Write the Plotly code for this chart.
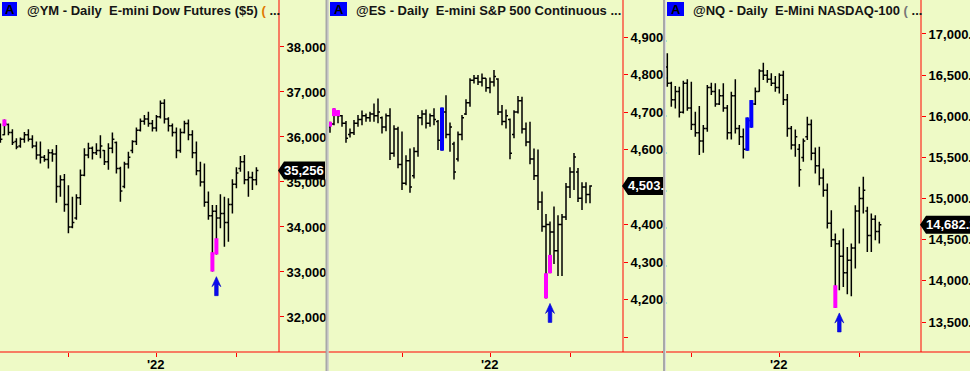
import plotly.graph_objects as go

W, H = 970, 371
BG = "#EEFAC6"
RED = "#FF0000"
MAG = "#FF00FF"
BLUE = "#0000FF"
FONT = "Liberation Sans, Arial, sans-serif"

# ---------------- data: @YM daily (index = trading day) ----------------
ym_open = [36250, 36050, 36280, 36100, 35900, 35800, 35950, 36050, 35950, 35800,
           35600, 35550, 35500, 35650, 35620, 34900, 35050, 34500, 34000, 34200,
           34650, 35150, 35600, 35750, 35650, 35700, 35700, 35450, 35750, 35880,
           35300, 34900, 35400, 35700, 35900, 36150, 36350, 36400, 36300, 36200,
           36450, 36750, 36400, 36250, 36100, 35700, 36100, 36300, 36050, 35650,
           35250, 35000, 34550, 34250, 34350, 34200, 34300, 34100, 34500, 34950,
           35300, 35450, 35050, 35100, 35050]
ym_high = [36300, 36390, 36300, 36170, 35970, 35990, 36110, 36170, 36040, 35900,
           35900, 35600, 35730, 35730, 35820, 35150, 35180, 34930, 34670, 34730,
           35280, 35750, 35870, 35790, 35860, 36040, 35710, 35860, 36100, 35900,
           35340, 35450, 35670, 35930, 36210, 36410, 36490, 36560, 36380, 36490,
           36810, 36840, 36440, 36300, 36210, 36190, 36360, 36390, 36150, 35900,
           35450, 35410, 34790, 34490, 34490, 34730, 34670, 34640, 35060, 35330,
           35580, 35600, 35240, 35230, 35330]
ym_low = [35870, 36040, 36040, 35820, 35730, 35760, 35870, 35900, 35750, 35500,
          35410, 35450, 35300, 35450, 34540, 34670, 34340, 33860, 33970, 34160,
          34490, 35130, 35530, 35500, 35600, 35530, 35380, 35270, 35640, 35190,
          34560, 34860, 35300, 35640, 35820, 36120, 36270, 36230, 36120, 36120,
          36410, 36300, 36120, 36010, 35530, 35650, 36080, 35930, 35530, 35150,
          34900, 34450, 34160, 33010, 33390, 33970, 33560, 33670, 34300, 34860,
          35230, 34950, 34670, 34820, 34930]
ym_close = [35950, 36300, 36100, 35880, 35780, 35950, 36050, 35950, 35800, 35600,
            35550, 35500, 35650, 35620, 34900, 35050, 34500, 34000, 34100, 34650,
            35150, 35600, 35750, 35650, 35700, 35800, 35450, 35750, 35950, 35300,
            34800, 35400, 35550, 35900, 36150, 36350, 36400, 36300, 36200, 36450,
            36750, 36400, 36250, 36100, 35700, 36100, 36300, 36050, 35650, 35250,
            35000, 34550, 34250, 34350, 34200, 34300, 34100, 34500, 34950, 35200,
            35450, 35050, 35100, 35050, 35256]
ym_paint_idx = [1, 53, 54]
ym_paint_top = [36390, 33440, 33750]
ym_paint_bot = [36240, 33010, 33390]
ym_paint_col = [MAG, MAG, MAG]
ym_arrow = (54, 33007)
ym_yticks = [32000, 33000, 34000, 35000, 36000, 37000, 38000]
ym_ytext = ["32,000", "33,000", "34,000", "35,000", "36,000", "37,000", "38,000"]
ym_xticks = [17, 39, 59]
ym_last = "35,256"

# ---------------- data: @ES daily ----------------
es_open = [4660, 4668, 4695, 4690, 4670, 4640, 4645, 4670, 4680, 4690,
           4685, 4695, 4690, 4685, 4660, 4690, 4590, 4655, 4560, 4510,
           4570, 4530, 4595, 4685, 4695, 4670, 4690, 4675, 4625, 4700,
           4640, 4615, 4575, 4640, 4695, 4725, 4785, 4790, 4780, 4790,
           4765, 4780, 4788, 4700, 4675, 4680, 4640, 4700, 4730, 4655,
           4620, 4575, 4530, 4460, 4395, 4400, 4380, 4330, 4400, 4420,
           4500, 4540, 4540, 4470, 4500, 4480]
es_high = [4674, 4710, 4705, 4692, 4676, 4656, 4679, 4692, 4704, 4696,
           4701, 4723, 4736, 4688, 4696, 4710, 4665, 4661, 4648, 4585,
           4603, 4606, 4692, 4705, 4707, 4696, 4710, 4679, 4712, 4745,
           4672, 4621, 4648, 4692, 4734, 4790, 4799, 4799, 4803, 4790,
           4792, 4812, 4790, 4719, 4707, 4683, 4705, 4743, 4741, 4672,
           4674, 4603, 4600, 4488, 4428, 4408, 4448, 4425, 4428, 4511,
           4553, 4591, 4551, 4513, 4513, 4505]
es_low = [4645, 4665, 4670, 4661, 4618, 4632, 4639, 4661, 4665, 4674,
          4674, 4674, 4670, 4643, 4649, 4572, 4581, 4550, 4492, 4505,
          4485, 4523, 4581, 4665, 4656, 4661, 4665, 4599, 4597, 4630,
          4594, 4520, 4568, 4625, 4692, 4714, 4776, 4772, 4768, 4754,
          4750, 4768, 4692, 4665, 4656, 4574, 4630, 4696, 4643, 4609,
          4561, 4519, 4439, 4381, 4203, 4270, 4295, 4263, 4263, 4412,
          4471, 4492, 4460, 4439, 4457, 4457]
es_close = [4665, 4700, 4690, 4670, 4630, 4645, 4670, 4680, 4690, 4685,
            4695, 4690, 4700, 4660, 4690, 4590, 4655, 4560, 4510, 4570,
            4500, 4595, 4685, 4695, 4670, 4690, 4680, 4625, 4700, 4640,
            4660, 4540, 4640, 4685, 4725, 4785, 4790, 4780, 4790, 4765,
            4780, 4795, 4700, 4675, 4690, 4590, 4700, 4730, 4655, 4620,
            4575, 4530, 4460, 4395, 4400, 4380, 4330, 4400, 4420, 4500,
            4540, 4580, 4470, 4500, 4480, 4503]
es_paint_idx = [0, 1, 2, 54, 55, 28]
es_paint_top = [4674, 4710, 4705, 4270, 4319, 4712]
es_paint_bot = [4661, 4689, 4689, 4203, 4270, 4597]
es_paint_col = [MAG, MAG, MAG, MAG, MAG, BLUE]
es_arrow = (55, 4203)
es_yticks = [4100, 4200, 4300, 4400, 4500, 4600, 4700, 4800, 4900]
es_ytext = ["", "4,200.", "4,300.", "4,400.", "4,500.", "4,600.", "4,700.", "4,800.", "4,900."]
es_xticks = [18, 40, 60]
es_last = "4,503."

# ---------------- data: @NQ daily ----------------
nq_open = [16600, 16400, 16200, 16300, 16050, 16400, 16100, 15900, 15800, 15700,
           15850, 16350, 16300, 16150, 16250, 16100, 15800, 16250, 15850, 15750,
           15600, 15950, 16150, 16300, 16550, 16500, 16450, 16400, 16350, 16500,
           16200, 15850, 15650, 15600, 15500, 15750, 15900, 15550, 15400, 15250,
           15100, 14700, 14500, 14450, 14300, 14100, 14250, 14400, 14850, 15000,
           14850, 14550, 14750, 14600]
nq_high = [16765, 16420, 16367, 16359, 16432, 16449, 16420, 16055, 16124, 15893,
           16380, 16408, 16400, 16327, 16400, 16136, 16298, 16449, 15893, 15852,
           15986, 16197, 16351, 16570, 16651, 16562, 16522, 16489, 16522, 16554,
           16270, 15881, 15840, 15662, 15731, 15994, 15962, 15621, 15629, 15366,
           15183, 14859, 14575, 14494, 14636, 14413, 14453, 14920, 15143, 15264,
           14900, 14818, 14798, 14717]
nq_low = [16359, 16116, 16096, 15986, 16035, 16067, 15832, 15751, 15528, 15556,
          15812, 16258, 16116, 16136, 16055, 15719, 15719, 15792, 15650, 15487,
          15581, 15861, 16136, 16298, 16440, 16408, 16367, 16298, 16278, 16136,
          15751, 15597, 15508, 15143, 15447, 15711, 15467, 15305, 15163, 15021,
          14636, 14413, 13671, 13886, 13926, 13837, 13813, 14149, 14453, 14818,
          14352, 14352, 14494, 14453]
nq_close = [16400, 16200, 16300, 16050, 16400, 16100, 15900, 15800, 15700, 15850,
            16350, 16300, 16150, 16250, 16100, 15800, 16250, 15850, 15750, 15600,
            15950, 16150, 16300, 16550, 16500, 16450, 16400, 16350, 16500, 16200,
            15850, 15650, 15750, 15350, 15700, 15900, 15550, 15400, 15250, 15100,
            14700, 14500, 14450, 14300, 14100, 14250, 14400, 14850, 15000, 15100,
            14550, 14750, 14600, 14682]
nq_paint_idx = [20, 21, 42]
nq_paint_top = [15986, 16197, 13947]
nq_paint_bot = [15581, 15861, 13671]
nq_paint_col = [BLUE, BLUE, MAG]
nq_arrow = (43, 13671)
nq_yticks = [13500, 14000, 14500, 15000, 15500, 16000, 16500, 17000]
nq_ytext = ["13,500.00", "14,000.00", "14,500.00", "15,000.00", "15,500.00",
            "16,000.00", "16,500.00", "17,000.00"]
nq_xticks = [6, 28, 48]
nq_last = "14,682.25"

x_ticktext = ["", "'22", ""]

# ---------------- layout geometry (pixels) ----------------
def PX(p):
    return p / W

def PY(p):
    return 1 - p / H

PLOT_BOTTOM = 352
panels = [
    dict(o=ym_open, h=ym_high, l=ym_low, c=ym_close,
         pidx=ym_paint_idx, ptop=ym_paint_top, pbot=ym_paint_bot, pcol=ym_paint_col,
         arrow=ym_arrow, yt=ym_yticks, ytt=ym_ytext, xt=ym_xticks, last=ym_last,
         x0=0, x1=279, right=325.5, xr=[-0.1, 69.65], yr=[31222, 39044],
         abox=(2, 17), tx=25, boxw=46,
         title="@YM - Daily  E-mini Dow Futures ($5) <span style='color:#E07800'>(</span> ..."),
    dict(o=es_open, h=es_high, l=es_low, c=es_close,
         pidx=es_paint_idx, ptop=es_paint_top, pbot=es_paint_bot, pcol=es_paint_col,
         arrow=es_arrow, yt=es_yticks, ytt=es_ytext, xt=es_xticks, last=es_last,
         x0=329, x1=623, right=663, xr=[-0.25, 73.25], yr=[4060, 4998.7],
         abox=(330, 347), tx=354, boxw=40,
         title="@ES - Daily  E-mini S&P 500 Continuous ..."),
    dict(o=nq_open, h=nq_high, l=nq_low, c=nq_close,
         pidx=nq_paint_idx, ptop=nq_paint_top, pbot=nq_paint_bot, pcol=nq_paint_col,
         arrow=nq_arrow, yt=nq_yticks, ytt=nq_ytext, xt=nq_xticks, last=nq_last,
         x0=666, x1=921, right=970, xr=[-0.33, 63.42], yr=[13135.6, 17413],
         abox=(667, 684), tx=691, boxw=70,
         title="@NQ - Daily  E-Mini NASDAQ-100 <span style='color:#777777'>(</span> ..."),
]

fig = go.Figure()
shapes = []
annotations = []
layout = dict(
    width=W, height=H, margin=dict(l=0, r=0, t=0, b=0, pad=0, autoexpand=False),
    paper_bgcolor=BG, plot_bgcolor=BG, showlegend=False, hovermode=False,
)

ARROW_PATH = "M 0,-5 L 4.5,-15 L 1.8,-12.5 L 1.8,-24 L -1.8,-24 L -1.8,-12.5 L -4.5,-15 Z"

for n, p in enumerate(panels, start=1):
    xa = "x" if n == 1 else f"x{n}"
    ya = "y" if n == 1 else f"y{n}"
    xkey = "xaxis" if n == 1 else f"xaxis{n}"
    ykey = "yaxis" if n == 1 else f"yaxis{n}"
    idx = list(range(len(p["o"])))
    assert len(p["o"]) == len(p["h"]) == len(p["l"]) == len(p["c"])

    fig.add_trace(go.Ohlc(
        x=idx, open=p["o"], high=p["h"], low=p["l"], close=p["c"],
        increasing=dict(line=dict(color="black", width=1.5)),
        decreasing=dict(line=dict(color="black", width=1.5)),
        tickwidth=0.5, hoverinfo="skip", xaxis=xa, yaxis=ya,
    ))
    # painted bars
    for col in (MAG, BLUE):
        xs, ys = [], []
        for i, t, b, cc in zip(p["pidx"], p["ptop"], p["pbot"], p["pcol"]):
            if cc == col:
                xs += [i, i, None]
                ys += [t, b, None]
        if xs:
            fig.add_trace(go.Scatter(x=xs, y=ys, mode="lines",
                                     line=dict(color=col, width=4),
                                     hoverinfo="skip", xaxis=xa, yaxis=ya))

    layout[xkey] = dict(
        domain=[PX(p["x0"]), PX(p["x1"])], range=p["xr"], anchor=ya,
        showgrid=False, zeroline=False, showline=False, automargin=False,
        ticks="outside", ticklen=4, tickcolor=RED, tickwidth=1,
        tickmode="array", tickvals=p["xt"], showticklabels=False,
        rangeslider=dict(visible=False), fixedrange=True,
    )
    layout[ykey] = dict(
        domain=[PY(PLOT_BOTTOM), 1], range=p["yr"], anchor=xa, side="right",
        showgrid=False, zeroline=False, showline=False, automargin=False,
        ticks="outside", ticklen=4, tickcolor=RED, tickwidth=1,
        tickmode="array", tickvals=p["yt"], ticktext=["<b>%s</b>" % t if t else "" for t in p["ytt"]],
        tickfont=dict(family=FONT, size=13, color="black"),
        fixedrange=True,
    )
    # x tick labels (year marker) as text placed at the tick values
    for tv, tt in zip(p["xt"], x_ticktext):
        if tt:
            annotations.append(dict(xref=xa, yref="paper", x=tv, y=PY(364),
                                    xanchor="center", yanchor="middle", showarrow=False,
                                    text="<b>%s</b>" % tt,
                                    font=dict(family=FONT, size=13, color="black")))

    # red axis lines
    shapes.append(dict(type="line", xref=f"{xa} domain", yref=f"{ya} domain",
                       x0=1, x1=1, y0=0, y1=1, line=dict(color=RED, width=1), layer="above"))
    shapes.append(dict(type="line", xref="paper", yref=f"{ya} domain",
                       x0=PX(p["x0"] - (4 if n > 1 else 0)), x1=PX(p["right"]), y0=0, y1=0,
                       line=dict(color=RED, width=1), layer="above"))
    # signal arrow
    ax_i, ax_v = p["arrow"]
    shapes.append(dict(type="path", xref=xa, yref=ya, xsizemode="pixel", ysizemode="pixel",
                       xanchor=ax_i, yanchor=ax_v, path=ARROW_PATH,
                       fillcolor="#0A0AF0", line=dict(color="#0000C8", width=0.6), layer="above"))
    # last price marker
    shapes.append(dict(type="path", xref=f"{xa} domain", yref=ya, xsizemode="pixel", ysizemode="pixel",
                       xanchor=1, yanchor=p["c"][-1],
                       path="M -1,0 L 5,9 L %d,9 L %d,-9 L 5,-9 Z" % (p["boxw"], p["boxw"]),
                       fillcolor="black", line=dict(width=0), layer="above"))
    annotations.append(dict(xref=f"{xa} domain", yref=ya, x=1, y=p["c"][-1], xshift=3,
                            xanchor="left", yanchor="middle", showarrow=False,
                            text="<b>%s</b>" % p["last"],
                            font=dict(family=FONT, size=13, color="white")))
    # title "A" box and text
    a0, a1 = p["abox"]
    shapes.append(dict(type="rect", xref="paper", yref="paper",
                       x0=PX(a0), x1=PX(a1), y0=PY(16), y1=PY(2),
                       fillcolor="#0000FF", line=dict(width=0), layer="above"))
    annotations.append(dict(xref="paper", yref="paper", x=PX((a0 + a1) / 2), y=PY(9.5),
                            xanchor="center", yanchor="middle", showarrow=False,
                            text="<b>A</b>", font=dict(family=FONT, size=13, color="black")))
    annotations.append(dict(xref="paper", yref="paper", x=PX(p["tx"]), y=PY(10),
                            xanchor="left", yanchor="middle", showarrow=False,
                            text="<b>%s</b>" % p["title"],
                            font=dict(family=FONT, size=13, color="#151515")))

# panel separators
for sx in (325.5, 663):
    shapes.append(dict(type="rect", xref="paper", yref="paper",
                       x0=PX(sx), x1=PX(sx + 3), y0=0, y1=1,
                       fillcolor="#A8A8A8", line=dict(width=0), layer="above"))
    shapes.append(dict(type="rect", xref="paper", yref="paper",
                       x0=PX(sx + 2), x1=PX(sx + 3), y0=0, y1=1,
                       fillcolor="#DDDDDD", line=dict(width=0), layer="above"))

layout["shapes"] = shapes
layout["annotations"] = annotations
fig.update_layout(**layout)
fig.write_html("out.html")
